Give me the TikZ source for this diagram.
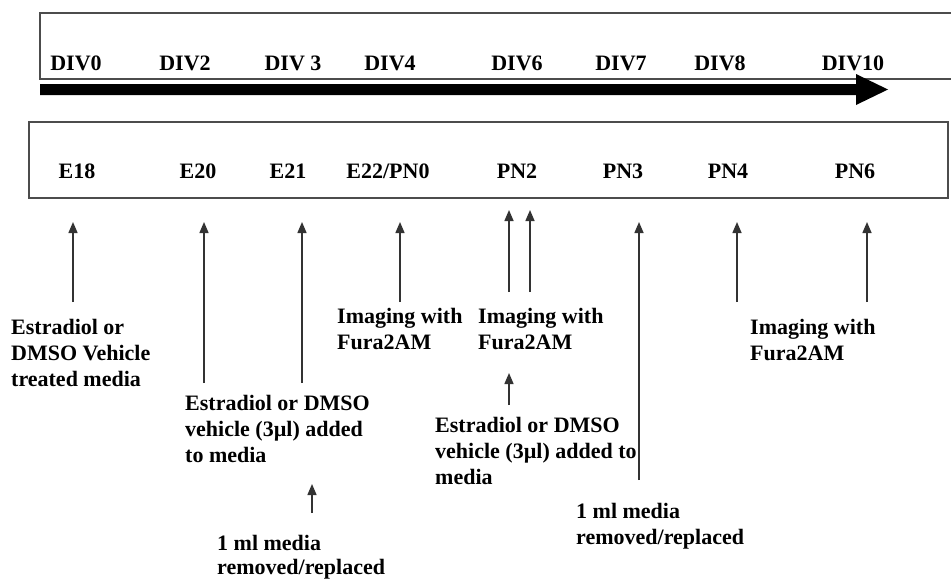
\documentclass[tikz,border=0pt]{standalone}
\usepackage{fontspec}
\setmainfont{Liberation Serif}
\usetikzlibrary{arrows.meta}
\begin{document}
\begin{tikzpicture}[x=1pt,y=-1pt,
  lbl/.style={font=\fontsize{22}{26}\selectfont\bfseries, inner sep=0pt, anchor=base},
  note/.style={font=\fontsize{22}{26}\selectfont\bfseries, inner sep=0pt, anchor=north west, align=left},
  notetight/.style={note, font=\fontsize{22}{24.5}\selectfont\bfseries},
  up/.style={draw=black!80, line width=1.5pt, -{Triangle[length=11pt,width=9pt]}},
  frame/.style={draw=black!70, line width=1.5pt}]
\useasboundingbox (0,0) rectangle (951,579);

% top box (open on the right) and timeline arrow
\draw[frame] (951,13) -- (40,13) -- (40,79) -- (951,79);
\fill[black] (40,84) -- (856,84) -- (856,74) -- (888,89.5) -- (856,105) -- (856,95) -- (40,95) -- cycle;

% DIV labels
\node[lbl] (d0)  at (76,70)  {DIV0};
\node[lbl] (d2)  at (185,70) {DIV2};
\node[lbl] (d3)  at (293,70) {DIV 3};
\node[lbl] (d4)  at (390,70) {DIV4};
\node[lbl] (d6)  at (517,70) {DIV6};
\node[lbl] (d7)  at (621,70) {DIV7};
\node[lbl] (d8)  at (720,70) {DIV8};
\node[lbl] (d10) at (853,70) {DIV10};

% second box
\draw[frame] (29,122) rectangle (948,198);
\node[lbl] (e18) at (77,178)  {E18};
\node[lbl] (e20) at (198,178) {E20};
\node[lbl] (e21) at (288,178) {E21};
\node[lbl] (e22) at (388,178) {E22/PN0};
\node[lbl] (p2)  at (517,178) {PN2};
\node[lbl] (p3)  at (623,178) {PN3};
\node[lbl] (p4)  at (728,178) {PN4};
\node[lbl] (p6)  at (855,178) {PN6};

% arrow end points
\coordinate (a1s) at (73,302);  \coordinate (a1e) at (73,222);
\coordinate (a2s) at (204,383); \coordinate (a2e) at (204,222);
\coordinate (a3s) at (302,383); \coordinate (a3e) at (302,222);
\coordinate (a4s) at (400,302); \coordinate (a4e) at (400,222);
\coordinate (a5s) at (509,292); \coordinate (a5e) at (509,210);
\coordinate (a6s) at (530,292); \coordinate (a6e) at (530,210);
\coordinate (a7s) at (639,480); \coordinate (a7e) at (639,222);
\coordinate (a8s) at (737,302); \coordinate (a8e) at (737,222);
\coordinate (a9s) at (867,302); \coordinate (a9e) at (867,222);
\coordinate (b1s) at (312,513); \coordinate (b1e) at (312,484);
\coordinate (b2s) at (509,405); \coordinate (b2e) at (509,373);

\foreach \s/\e in {a1s/a1e,a2s/a2e,a3s/a3e,a4s/a4e,a5s/a5e,a6s/a6e,a7s/a7e,a8s/a8e,a9s/a9e,b1s/b1e,b2s/b2e}
  \draw[up] (\s) -- (\e);

% annotations
\node[note] (t1) at (11,319)  {Estradiol or\\DMSO Vehicle\\treated media};
\node[note] (t2) at (185,395) {Estradiol or DMSO\\vehicle (3µl) added\\to media};
\node[notetight] (t3) at (217,535) {1 ml media\\removed/replaced};
\node[note] (t4) at (337,308) {Imaging with\\Fura2AM};
\node[note] (t5) at (478,308) {Imaging with\\Fura2AM};
\node[note] (t6) at (435,417) {Estradiol or DMSO\\vehicle (3µl) added to\\media};
\node[note] (t7) at (576,503) {1 ml media\\removed/replaced};
\node[note] (t8) at (750,319) {Imaging with\\Fura2AM};
\end{tikzpicture}
\end{document}
